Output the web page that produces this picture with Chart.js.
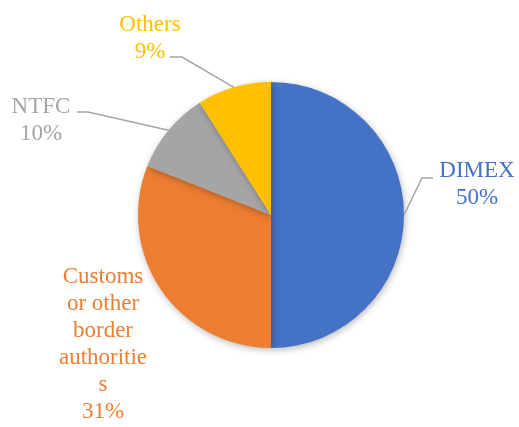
<!DOCTYPE html>
<html>
<head>
<meta charset="utf-8">
<script src="https://cdn.jsdelivr.net/npm/chart.js@4"></script>
<style>
  html, body { margin: 0; padding: 0; background: #fff; }
  #wrap { width: 519px; height: 427px; }
</style>
</head>
<body>
<div id="wrap"><canvas id="pie" width="519" height="427"></canvas></div>
<script>
// Share of responses by agency
const categories = ['DIMEX', 'Customs or other border authorities', 'NTFC', 'Others'];
const shares = [50, 31, 10, 9];
const sliceColors = ['#4472C4', '#ED7D31', '#A5A5A5', '#FFC000'];

// Wrapped label text, placement and leader line elbow for each slice
const labelLines = [
    ['DIMEX'],
    ['Customs', 'or other', 'border', 'authoritie', 's'],
    ['NTFC'],
    ['Others']
];
const labelSpots = [
    { x: 477, y: 177, elbow: [422, 178], tail: [433, 178] },
    { x: 103, y: 283, elbow: null, tail: null },
    { x: 41, y: 113, elbow: [88, 112], tail: [77, 112] },
    { x: 150, y: 31, elbow: [182, 57], tail: [170, 57] }
];

const FONT = '23px "Liberation Serif", "Times New Roman", serif';
const LINE_H = 27;

// soft drop shadow under the pie
const shadowPlugin = {
    id: 'pieShadow',
    beforeDatasetDraw(chart) {
        const ctx = chart.ctx;
        ctx.save();
        ctx.shadowColor = 'rgba(0,0,0,0.28)';
        ctx.shadowBlur = 7;
        ctx.shadowOffsetX = 1;
        ctx.shadowOffsetY = 2;
    },
    afterDatasetDraw(chart) {
        chart.ctx.restore();
    }
};

// outside labels with leader lines
const outsideLabels = {
    id: 'outsideLabels',
    afterDraw(chart) {
        const ctx = chart.ctx;
        const arcs = chart.getDatasetMeta(0).data;
        ctx.save();
        ctx.font = FONT;
        ctx.textAlign = 'center';
        ctx.textBaseline = 'alphabetic';
        arcs.forEach((arc, i) => {
            const spot = labelSpots[i];
            if (spot.elbow) {
                const mid = (arc.startAngle + arc.endAngle) / 2;
                const ax = arc.x + Math.cos(mid) * arc.outerRadius;
                const ay = arc.y + Math.sin(mid) * arc.outerRadius;
                ctx.strokeStyle = '#A5A5A5';
                ctx.lineWidth = 1.5;
                ctx.beginPath();
                ctx.moveTo(spot.tail[0], spot.tail[1]);
                ctx.lineTo(spot.elbow[0], spot.elbow[1]);
                ctx.lineTo(ax, ay);
                ctx.stroke();
            }
            const lines = labelLines[i].concat([shares[i] + '%']);
            ctx.fillStyle = sliceColors[i];
            lines.forEach((txt, k) => {
                ctx.fillText(txt, spot.x, spot.y + k * LINE_H);
            });
        });
        ctx.restore();
    }
};

new Chart(document.getElementById('pie'), {
    type: 'pie',
    data: {
        labels: categories,
        datasets: [{
            data: shares,
            backgroundColor: sliceColors,
            borderWidth: 0
        }]
    },
    options: {
        responsive: false,
        animation: false,
        layout: { padding: { left: 138, right: 115, top: 82, bottom: 79 } },
        plugins: {
            legend: { display: false },
            tooltip: { enabled: false }
        }
    },
    plugins: [shadowPlugin, outsideLabels]
});
</script>
</body>
</html>
